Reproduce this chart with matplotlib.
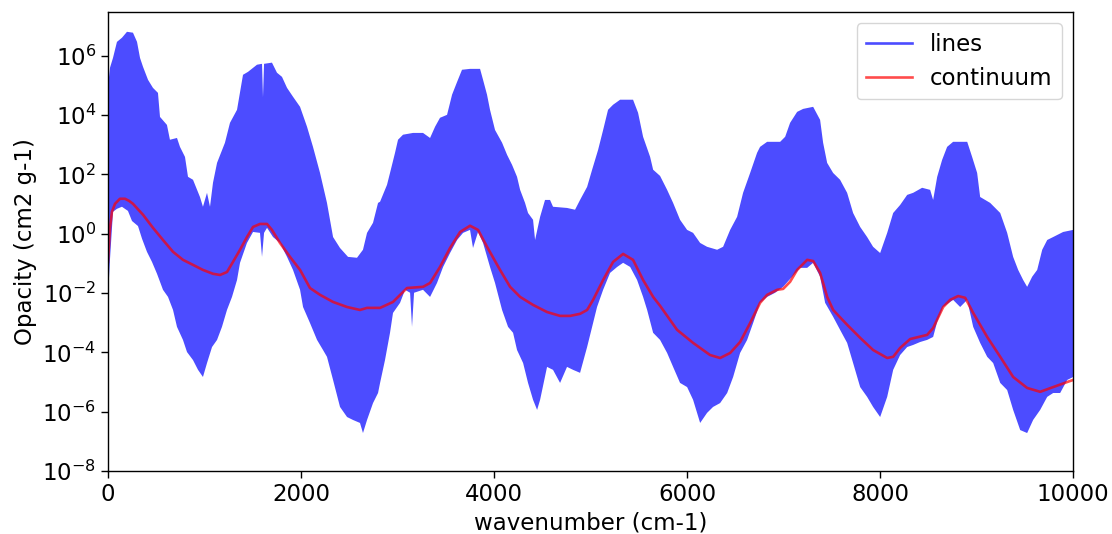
import numpy as np
import matplotlib
matplotlib.use("Agg")
import matplotlib.pyplot as plt
from matplotlib.lines import Line2D

# Line opacity: upper and lower envelope of the dense line forest
# (wavenumber in cm-1, log10 of opacity in cm2 g-1)
upper_wn = [0, 21, 52, 93, 145, 197, 259, 301, 332, 363, 415, 466, 518, 539, 611, 642,
            715, 746, 798, 829, 881, 953, 984, 1026, 1057, 1088, 1130, 1212, 1264, 1337,
            1399, 1451, 1544, 1596, 1606, 1617, 1699, 1751, 1803, 1855, 1917, 1990, 2062, 2124,
            2197, 2269, 2332, 2404, 2487, 2580, 2642, 2684, 2746, 2798, 2819, 2891,
            2922, 2974, 3005, 3057, 3161, 3264, 3337, 3389, 3440, 3513, 3565, 3617,
            3668, 3751, 3855, 3886, 3927, 3958, 4010, 4083, 4135, 4187, 4238, 4270,
            4321, 4352, 4404, 4425, 4477, 4528, 4580, 4611, 4756, 4839, 4891, 4964,
            5016, 5078, 5130, 5181, 5233, 5306, 5440, 5492, 5544, 5617, 5648, 5720,
            5793, 5855, 5927, 6000, 6062, 6135, 6207, 6311, 6373, 6446, 6518, 6580,
            6653, 6725, 6756, 6829, 6964, 7016, 7067, 7140, 7202, 7306, 7378, 7409,
            7451, 7513, 7585, 7658, 7720, 7793, 7865, 7927, 8000, 8073, 8135, 8207,
            8280, 8342, 8435, 8518, 8549, 8591, 8642, 8694, 8756, 8902, 8953, 9005,
            9036, 9140, 9244, 9316, 9378, 9430, 9482, 9523, 9575, 9627, 9679, 9731,
            9793, 9896, 10000]
upper_log = [4.96, 5.60, 5.93, 6.47, 6.61, 6.81, 6.78, 6.47, 5.93, 5.63, 5.19, 4.92, 4.75, 3.94,
             3.67, 3.17, 3.23, 2.93, 2.59, 1.92, 1.82, 1.24, 0.91, 1.38, 0.91, 1.72, 2.39,
             3.07, 3.74, 4.18, 5.36, 5.46, 5.70, 5.73, 4.60, 5.73, 5.77, 5.43, 5.29, 4.92, 4.62,
             4.28, 3.61, 2.93, 2.05, 1.04, -0.11, -0.48, -0.78, -0.81, -0.54, 0.03, 0.37,
             1.04, 1.08, 1.65, 2.05, 2.73, 3.17, 3.34, 3.40, 3.40, 3.23, 3.61, 3.91,
             4.01, 4.69, 5.12, 5.53, 5.56, 5.56, 5.19, 4.69, 4.18, 3.50, 3.07, 2.66,
             2.32, 1.92, 1.48, 1.04, 0.70, 0.47, -0.21, 0.57, 1.14, 1.14, 0.91, 0.87,
             0.81, 1.14, 1.58, 2.16, 2.83, 3.50, 4.18, 4.35, 4.52, 4.52, 4.08, 3.27,
             2.59, 2.16, 1.95, 1.48, 1.04, 0.47, 0.13, 0.03, -0.31, -0.44, -0.54, -0.44,
             0.13, 0.57, 1.38, 2.05, 2.73, 2.93, 3.10, 3.10, 3.27, 3.74, 4.11, 4.21,
             4.28, 3.84, 3.07, 2.39, 2.05, 1.82, 1.38, 0.70, 0.23, -0.11, -0.44, -0.65,
             0.03, 0.70, 0.97, 1.31, 1.38, 1.55, 1.48, 1.14, 1.92, 2.49, 2.93, 3.10,
             3.10, 2.59, 2.05, 1.24, 1.04, 0.70, 0.03, -0.78, -1.22, -1.56, -1.79, -1.45,
             -1.22, -0.54, -0.21, -0.11, 0.06, 0.13]

lower_wn = [0, 21, 52, 93, 145, 207, 249, 311, 353, 404, 456, 508, 570, 622, 674, 715,
            777, 819, 881, 933, 984, 1026, 1078, 1130, 1181, 1233, 1285, 1337, 1368,
            1440, 1503, 1575, 1596, 1617, 1648, 1710, 1782, 1855, 1917, 1990, 2021,
            2093, 2166, 2228, 2269, 2332, 2404, 2477, 2539, 2611, 2642, 2684, 2746,
            2798, 2819, 2870, 2922, 2953, 3026, 3078, 3130, 3150, 3171, 3264, 3337,
            3409, 3472, 3544, 3617, 3679, 3751, 3782, 3834, 3886, 3958, 4010, 4083,
            4145, 4197, 4238, 4301, 4352, 4404, 4446, 4477, 4549, 4611, 4684, 4756,
            4819, 4891, 4964, 5016, 5067, 5130, 5202, 5275, 5337, 5410, 5482, 5544,
            5586, 5648, 5720, 5793, 5855, 5927, 6000, 6062, 6135, 6207, 6269, 6342,
            6415, 6477, 6549, 6622, 6684, 6756, 6829, 6912, 6995, 7088, 7171, 7244,
            7306, 7378, 7430, 7513, 7585, 7658, 7720, 7793, 7865, 7927, 8000, 8073,
            8135, 8207, 8280, 8342, 8415, 8487, 8549, 8591, 8653, 8756, 8829, 8902,
            8964, 9036, 9109, 9171, 9244, 9316, 9378, 9451, 9523, 9585, 9658, 9731,
            9793, 9865, 9938, 10000]
lower_log = [-2.13, -0.85, 0.74, 0.84, 0.91, 0.77, 0.43, 0.26, -0.17, -0.61, -0.95, -1.35,
             -1.89, -2.13, -2.57, -3.14, -3.58, -3.99, -4.26, -4.59, -4.83, -4.36, -3.82,
             -3.58, -3.14, -2.57, -2.13, -1.56, -0.98, -0.31, 0.06, 0.03, -0.78, 0.03,
             0.20, -0.11, -0.31, -0.78, -1.22, -1.89, -2.47, -3.01, -3.58, -3.92, -4.15,
             -4.93, -5.84, -6.18, -6.28, -6.38, -6.72, -6.28, -5.71, -5.37, -5.03, -4.26,
             -3.34, -2.67, -2.33, -1.89, -1.99, -3.14, -1.99, -1.89, -2.13, -1.66, -1.12,
             -0.65, -0.21, 0.03, 0.13, -0.48, 0.06, -0.31, -1.12, -1.66, -2.57, -3.14,
             -3.34, -3.92, -4.36, -5.03, -5.60, -5.94, -5.60, -4.49, -4.59, -5.03, -4.49,
             -4.59, -4.69, -3.82, -3.14, -2.47, -1.89, -1.32, -1.12, -0.98, -1.12, -1.56,
             -2.13, -2.57, -3.34, -3.58, -4.02, -4.49, -5.03, -5.17, -5.60, -6.38, -6.04,
             -5.84, -5.71, -5.37, -4.83, -4.02, -3.58, -3.01, -2.33, -2.13, -1.99, -1.79,
             -1.45, -1.15, -1.15, -0.98, -1.45, -2.33, -2.80, -3.24, -3.68, -4.36, -5.17,
             -5.50, -5.84, -6.18, -5.50, -4.59, -4.09, -3.82, -3.75, -3.65, -3.58, -3.48,
             -2.97, -2.47, -2.23, -2.47, -2.23, -3.14, -3.68, -4.15, -4.36, -5.03, -5.27,
             -5.94, -6.62, -6.72, -6.28, -5.94, -5.50, -5.37, -5.37, -4.93, -4.83]

# Continuum opacity (log10 of cm2 g-1)
cont_wn = [0, 21, 41, 73, 124, 176, 218, 259, 363, 466, 570, 674, 777, 881, 984, 1088,
           1161, 1233, 1295, 1368, 1440, 1503, 1575, 1648, 1699, 1782, 1886, 1990, 2093,
           2197, 2332, 2477, 2611, 2684, 2819, 2953, 3098, 3264, 3337, 3440, 3544, 3648,
           3751, 3834, 3927, 4062, 4166, 4270, 4404, 4549, 4684, 4788, 4891, 4964, 5026,
           5130, 5233, 5337, 5440, 5544, 5648, 5720, 5896, 6062, 6238, 6342, 6446, 6549,
           6653, 6756, 6829, 6933, 6995, 7067, 7140, 7244, 7306, 7378, 7451, 7513, 7658,
           7793, 7927, 8073, 8135, 8207, 8311, 8487, 8549, 8653, 8725, 8808, 8881, 8964,
           9109, 9244, 9378, 9523, 9658, 9793, 9938, 10000]
cont_log = [-0.95, 0.20, 0.74, 1.01, 1.18, 1.18, 1.11, 1.01, 0.64, 0.20, -0.21, -0.61,
            -0.88, -1.05, -1.22, -1.35, -1.39, -1.29, -0.95, -0.54, -0.11, 0.23, 0.33,
            0.33, 0.13, -0.31, -0.78, -1.22, -1.83, -2.06, -2.30, -2.47, -2.57, -2.50,
            -2.50, -2.30, -1.83, -1.79, -1.66, -1.12, -0.48, 0.06, 0.27, 0.13, -0.44,
            -1.22, -1.79, -2.13, -2.40, -2.64, -2.77, -2.77, -2.70, -2.57, -2.23, -1.56,
            -0.95, -0.68, -0.88, -1.56, -2.13, -2.43, -3.24, -3.68, -4.09, -4.19, -4.02,
            -3.65, -3.01, -2.33, -2.06, -1.89, -1.86, -1.62, -1.22, -0.88, -0.92, -1.32,
            -2.13, -2.57, -3.07, -3.51, -3.92, -4.19, -4.15, -3.85, -3.55, -3.41, -3.18,
            -2.47, -2.23, -2.10, -2.16, -2.67, -3.48, -4.15, -4.83, -5.20, -5.33, -5.17,
            -5.00, -4.93]

x_ticks = [0, 2000, 4000, 6000, 8000, 10000]
y_ticks = [1e-8, 1e-6, 1e-4, 1e-2, 1e0, 1e2, 1e4, 1e6]

FS = 16.5
plt.rcParams["font.family"] = ["DejaVu Sans"]
plt.rcParams["font.size"] = FS

fig = plt.figure(figsize=(11.12, 5.34), dpi=100)
ax = fig.add_axes([0.0971, 0.118, 0.868, 0.8595])

# Line forest drawn as the band between its envelopes
band_x = np.concatenate([upper_wn, lower_wn[::-1]])
band_y = 10.0 ** np.concatenate([upper_log, lower_log[::-1]])
ax.fill(band_x, band_y, color="blue", alpha=0.7, lw=0)

cont_line, = ax.plot(cont_wn, 10.0 ** np.array(cont_log), color="red", alpha=0.7,
                     lw=1.9, label="continuum")

ax.set_yscale("log")
ax.set_xlim(0, 10000)
ax.set_ylim(1e-8, 3e7)
ax.set_xticks(x_ticks)
ax.set_yticks(y_ticks)
ax.yaxis.set_minor_locator(matplotlib.ticker.NullLocator())
ax.tick_params(labelsize=FS, length=5, width=1)
for s in ax.spines.values():
    s.set_linewidth(1.0)

ax.set_xlabel("wavenumber (cm-1)", fontsize=FS)
ax.set_ylabel("Opacity (cm2 g-1)", fontsize=FS)

lines_handle = Line2D([], [], color="blue", alpha=0.7, lw=1.9)
ax.legend([lines_handle, cont_line], ["lines", "continuum"], loc="upper right",
          fontsize=FS, framealpha=0.8)

fig.savefig("out.png", dpi=100)
